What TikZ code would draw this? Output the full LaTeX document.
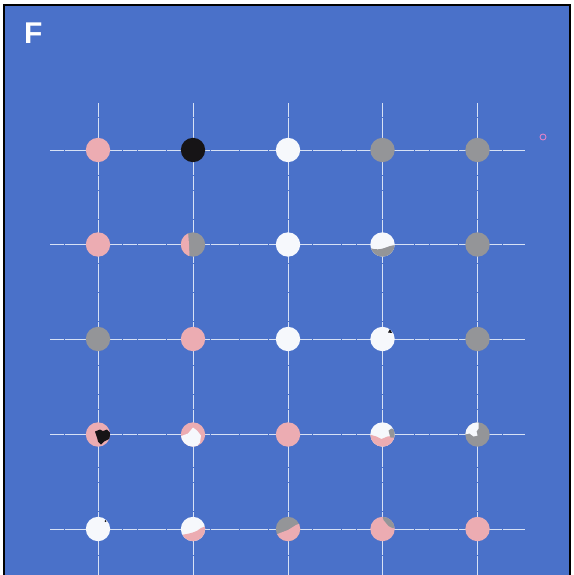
\documentclass[tikz,border=0pt]{standalone}
\usepackage{fontspec}
\setmainfont{Liberation Sans}
\definecolor{bg}{RGB}{74,113,201}
\definecolor{pinkd}{RGB}{236,172,178}
\definecolor{grayd}{RGB}{148,149,152}
\definecolor{whited}{RGB}{246,248,252}
\definecolor{blackd}{RGB}{22,20,22}
\definecolor{gridl}{RGB}{215,225,245}
\definecolor{ringp}{RGB}{222,130,200}
\tikzset{
  dotn/.style={circle,draw=none,minimum size=24.4pt,inner sep=0pt},
  gridline/.style={draw=gridl,line width=0.8pt,dash pattern=on 14pt off 0.6pt},
  frame/.style={draw=black,line width=1.6pt},
}
\newcommand\mydot[4]{\node[dotn,fill=#4] (#1) at (#2,#3) {};}
\newcommand\rr{12.2}
\begin{document}
\begin{tikzpicture}[x=1pt,y=-1pt]
\useasboundingbox (0,0) rectangle (573,575);
\fill[white] (0,0) rectangle (573,575);
\fill[bg] (4,5) rectangle (570,575);
\draw[frame] (4,576) -- (4,5) -- (570,5) -- (570,576);
\node[text=white,font=\bfseries\fontsize{30}{30}\selectfont,anchor=base west,inner sep=0pt] (lab) at (24,43.5) {F};
% grid coordinates
\foreach \y [count=\i] in {150,244.5,339,434.5,529}{
  \coordinate (hl\i) at (50,\y);
  \coordinate (hr\i) at (525,\y);
  \draw[gridline] (hl\i) -- (hr\i);
}
\foreach \x [count=\i] in {98,193,288,382.5,477.5}{
  \coordinate (vt\i) at (\x,103);
  \coordinate (vb\i) at (\x,576);
  \draw[gridline] (vt\i) -- (vb\i);
}
% row 1
\mydot{d11}{98}{150}{pinkd}
\mydot{d12}{193}{150}{blackd}
\mydot{d13}{288}{150}{whited}
\mydot{d14}{382.5}{150}{grayd}
\mydot{d15}{477.5}{150}{grayd}
% row 2
\mydot{d21}{98}{244.5}{pinkd}
\mydot{d22}{193}{244.5}{grayd}
\mydot{d23}{288}{244.5}{whited}
\mydot{d24}{382.5}{244.5}{whited}
\mydot{d25}{477.5}{244.5}{grayd}
% row 3
\mydot{d31}{98}{339}{grayd}
\mydot{d32}{193}{339}{pinkd}
\mydot{d33}{288}{339}{whited}
\mydot{d34}{382.5}{339}{whited}
\mydot{d35}{477.5}{339}{grayd}
% row 4
\mydot{d41}{98}{434.5}{pinkd}
\mydot{d42}{193}{434.5}{pinkd}
\mydot{d43}{288}{434.5}{pinkd}
\mydot{d44}{382.5}{434.5}{whited}
\mydot{d45}{477.5}{434.5}{grayd}
% row 5
\mydot{d51}{98}{529}{whited}
\mydot{d52}{193}{529}{whited}
\mydot{d53}{288}{529}{grayd}
\mydot{d54}{382.5}{529}{pinkd}
\mydot{d55}{477.5}{529}{pinkd}
% partial patches
\begin{scope}[shift={(193,244.5)}]
  \clip (0,0) circle (\rr);
  \fill[pinkd] (-13,-13) -- (-5,-13) -- (-4,0) -- (-3.5,13) -- (-13,13) -- cycle;
\end{scope}
\begin{scope}[shift={(382.5,244.5)}]
  \clip (0,0) circle (\rr);
  \fill[grayd] (-13,3.5) .. controls (-7,5.5) and (-2,5) .. (2,3.5) .. controls (5,2.5) and (8,1) .. (13,0.5) -- (13,13) -- (-13,13) -- cycle;
\end{scope}
\begin{scope}[shift={(382.5,339)}]
  \clip (0,0) circle (\rr);
  \fill[blackd] (5.5,-6.5) -- (7.5,-10) -- (9.5,-6) -- cycle;
\end{scope}
\begin{scope}[shift={(98,434.5)}]
  \clip (0,0) circle (\rr);
  \fill[blackd] (-3,-3) -- (2,-5) -- (5,-3.5) -- (9,-5) -- (12,-2) -- (12,4) -- (6,7) -- (3,10) -- (0,7) -- (-1,3) -- cycle;
\end{scope}
\begin{scope}[shift={(193,434.5)}]
  \clip (0,0) circle (\rr);
  \fill[whited] (-13,2) -- (-5,-1) -- (0,-7) -- (4,-4) -- (8,1) -- (7,8) -- (3,13) -- (-6,13) -- (-13,8) -- cycle;
\end{scope}
\begin{scope}[shift={(382.5,434.5)}]
  \clip (0,0) circle (\rr);
  \fill[pinkd] (-13,0) -- (-6,2) -- (-1,4.5) -- (5,2) -- (13,1) -- (13,13) -- (-13,13) -- cycle;
  \fill[grayd] (6,-4) -- (9,-6) -- (13,-5) -- (13,3) -- (8,3) -- (7,0) -- cycle;
\end{scope}
\begin{scope}[shift={(477.5,434.5)}]
  \clip (0,0) circle (\rr);
  \fill[whited] (-13,-13) -- (1,-13) -- (1,-6) -- (-1,-3) -- (0,1) -- (-4,2) -- (-8,-1) -- (-13,0) -- cycle;
\end{scope}
\begin{scope}[shift={(98,529)}]
  \clip (0,0) circle (\rr);
  \fill[blackd] (7.5,-8) circle (1);
\end{scope}
\begin{scope}[shift={(193,529)}]
  \clip (0,0) circle (\rr);
  \fill[pinkd] (-13,6) .. controls (-4,5) and (4,3) .. (8,-1) -- (13,-3) -- (13,13) -- (-13,13) -- cycle;
\end{scope}
\begin{scope}[shift={(288,529)}]
  \clip (0,0) circle (\rr);
  \fill[pinkd] (-13,6) -- (-8,4) -- (0,1) -- (8,-4) -- (13,-6) -- (13,13) -- (-13,13) -- cycle;
\end{scope}
\begin{scope}[shift={(382.5,529)}]
  \clip (0,0) circle (\rr);
  \fill[grayd] (0,-13) -- (1,-9) -- (6,-3) -- (10,-1) -- (13,-1) -- (13,-13) -- cycle;
\end{scope}
% small ring top right
\node[circle,draw=ringp,line width=0.9pt,minimum size=6pt,inner sep=0pt] (ring) at (543,137) {};
\end{tikzpicture}
\end{document}
